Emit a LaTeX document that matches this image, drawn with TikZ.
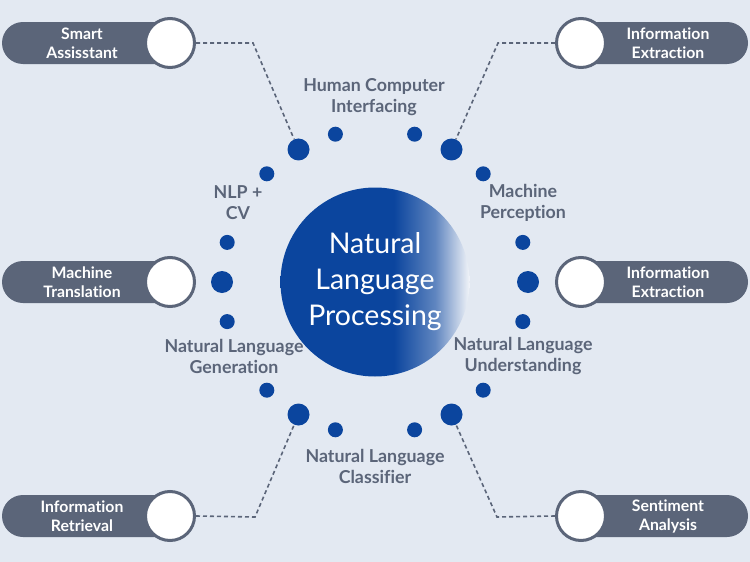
\documentclass[tikz,border=0pt]{standalone}
\usepackage{fontspec}
\setmainfont{Lato}[Ligatures=NoCommon]
\usetikzlibrary{positioning,calc}

\definecolor{bgcol}{HTML}{E3E9F2}
\definecolor{pillcol}{HTML}{5B6579}
\definecolor{nlpblue}{HTML}{0B459E}

\pgfdeclarehorizontalshading{nlpshade}{100bp}{color(0bp)=(nlpblue); color(25bp)=(nlpblue); color(55bp)=(nlpblue); color(66bp)=(nlpblue!65!white); color(75bp)=(bgcol!50!white); color(100bp)=(bgcol!50!white)}

\tikzset{
  pilltext/.style={text=white, align=center, font=\bfseries\fontsize{15.8}{19}\selectfont},
  ring/.style={circle, fill=white, draw=pillcol, line width=3pt, minimum size=49pt, inner sep=0pt},
  bigdot/.style={circle, fill=nlpblue, minimum size=22pt, inner sep=0pt},
  smalldot/.style={circle, fill=nlpblue, minimum size=15pt, inner sep=0pt},
  topic/.style={text=pillcol, align=center, font=\bfseries\fontsize{17.8}{21}\selectfont},
  dashline/.style={draw=pillcol, line width=1.6pt, dash pattern=on 4pt off 3pt}
}

\begin{document}
\begin{tikzpicture}[x=1pt, y=-1pt]
  \fill[bgcol] (0,0) rectangle (750,562);
  \useasboundingbox (0,0) rectangle (750,562);

  % centre
  \node [circle, minimum size=189pt, shade, shading=nlpshade, text=white, align=center,
         font=\fontsize{28.5}{36}\selectfont] (nlp) at (375,282) {Natural\\Language\\Processing};

  % ring of dots
  \foreach \a in {0,60,...,300}
    \node [bigdot] (d\a) at ($(nlp.center)+(\a:153)$) {};
  \foreach \a in {15,45,...,345}
    \node [smalldot] (s\a) at ($(nlp.center)+(\a:153)$) {};

  % topics
  \node [topic] (hci) at (374,97) {Human Computer\\Interfacing};
  \node [topic] (nlpcv) at (238,203) {NLP +\\CV};
  \node [topic] (mp) at (523,203) {Machine\\Perception};
  \node [topic] (nlg) at (234,356) {Natural Language\\Generation};
  \node [topic] (nlu) at (523,356) {Natural Language\\Understanding};
  \node [topic] (nlc) at (375,466) {Natural Language\\Classifier};

  % left pills
  \fill[pillcol, rounded corners=21pt] (2,22) rectangle (190,64);
  \fill[pillcol, rounded corners=21pt] (2,261) rectangle (190,303);
  \fill[pillcol, rounded corners=21pt] (2,495) rectangle (190,537);
  \node [pilltext] (sa) at (82,43) {Smart\\Assisstant};
  \node [pilltext] (mt) at (82,282) {Machine\\Translation};
  \node [pilltext] (ir) at (82,516) {Information\\Retrieval};
  \node [ring] (saR) at (170,43) {};
  \node [ring] (mtR) at (170,282) {};
  \node [ring] (irR) at (170,516) {};

  % right pills
  \fill[pillcol, rounded corners=21pt] (560,22) rectangle (748,64);
  \fill[pillcol, rounded corners=21pt] (560,261) rectangle (748,303);
  \fill[pillcol, rounded corners=21pt] (560,495) rectangle (748,537);
  \node [pilltext] (ie) at (668,43) {Information\\Extraction};
  \node [pilltext] (ie2) at (668,282) {Information\\Extraction};
  \node [pilltext] (sent) at (668,516) {Sentiment\\Analysis};
  \node [ring] (ieR) at (581,43) {};
  \node [ring] (ie2R) at (581,282) {};
  \node [ring] (sentR) at (581,516) {};

  % connectors
  \coordinate (bendA) at (253,43);
  \coordinate (bendB) at (498,43);
  \coordinate (bendC) at (255,517);
  \coordinate (bendD) at (497,517);
  \draw[dashline] (saR.east) -- (bendA) -- (d240);
  \draw[dashline] (ieR.west) -- (bendB) -- (d300);
  \draw[dashline] (irR.east) -- (bendC) -- (d120);
  \draw[dashline] (sentR.west) -- (bendD) -- (d60);

\end{tikzpicture}
\end{document}
